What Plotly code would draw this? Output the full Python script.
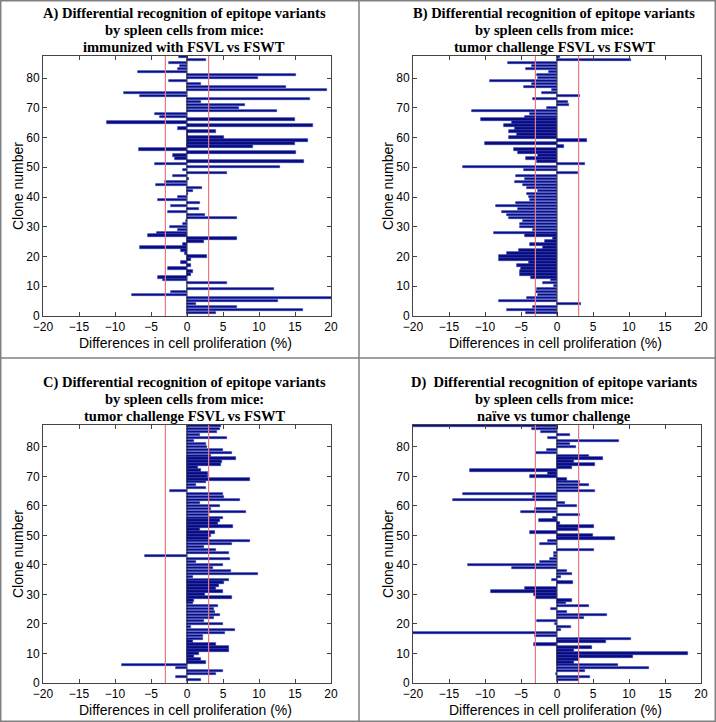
import plotly.graph_objects as go

W, H = 716, 722

clones = list(range(1, 88))
x_ticks = [-20, -15, -10, -5, 0, 5, 10, 15, 20]
y_ticks = [0, 10, 20, 30, 40, 50, 60, 70, 80]
threshold = 3

vals_A = [4.0, 16.1, 7.0, 1.2, 12.7, 20.5, -7.6, -2.2, 12.1, 0.0,
          5.6, -3.3, -4.0, 0.5, 0.8, -2.6, 0.5, -0.9, 0.5, 2.8,
          -0.3, -0.9, -6.5, -0.6, 2.3, 7.0, -5.4, -4.1, -1.2, -2.4,
          -0.5, -0.2, 6.9, 2.5, -2.6, 1.6, -2.2, 1.8, -4.0, -1.3,
          0.2, 0.9, 2.1, -4.3, -3.0, 0.3, -1.9, 5.5, -0.5, 12.9,
          -4.4, 16.3, -1.7, -2.0, 15.1, -6.6, 9.1, 15.0, 16.8, 5.2,
          0.15, 4.0, -1.2, 17.5, -11.1, 15.0, -3.75, -4.4, 12.5, 7.2,
          8.0, 2.0, 17.1, -6.5, -8.8, 19.4, 13.7, 2.0, -2.5, 9.8,
          15.1, -6.8, -1.3, -1.0, -2.5, 2.6, -1.1]

vals_B = [-4.35, -7.0, -3.3, 3.3, -8.1, -4.1, -2.6, -2.9, -2.8, -0.4,
          -1.9, -0.9, -3.6, -5.2, -5.2, -5.0, -5.5, -3.9, -8.0, -8.0,
          -6.9, -5.3, -2.0, -3.8, -1.7, -0.6, -4.5, -8.7, -3.4, -5.1,
          -5.2, -4.7, -6.6, -6.9, -7.7, -5.4, -8.5, -5.7, -3.8, -3.9,
          -4.2, -2.6, -4.1, -4.7, -5.8, -4.4, -5.7, 2.9, -4.6, -13.1,
          3.9, -2.8, -4.35, -2.7, -5.4, -6.0, 1.0, -10.0, 4.2, -6.6,
          -5.5, -6.7, -5.9, -7.4, -6.3, -10.5, -4.4, -3.7, -11.8, -1.4,
          1.7, 1.5, -3.3, 3.2, -2.1, -0.7, -4.6, -3.5, -9.3, -2.6,
          -2.8, -1.1, -4.35, -3.5, -6.8, 10.3, 0.4]

vals_C = [2.0, -1.5, 4.0, 5.0, -1.5, -9.0, 2.6, 2.0, 1.0, 1.7,
          5.8, 5.8, 4.0, 0.9, 2.2, 2.2, 5.3, 6.7, 0.6, 5.0,
          2.3, 3.7, 4.6, 3.9, 3.8, 4.35, 0.8, 1.0, 6.3, 2.5,
          5.0, 4.0, 4.4, 5.2, 5.9, 0.8, 9.8, 6.1, 3.6, 5.0,
          1.3, 6.0, -5.8, 5.8, 4.0, 2.3, 6.2, 8.7, 3.0, 3.3,
          3.9, 1.8, 6.4, 4.35, 4.6, 5.0, 3.0, 8.2, 3.4, 4.6,
          1.8, 7.4, 5.1, 5.0, -2.4, 2.6, 1.3, 2.6, 8.75, 2.9,
          2.9, 1.9, 1.5, 4.7, 4.9, 6.8, 3.3, 6.3, 5.0, 2.8,
          2.7, 1.0, 5.6, 1.8, 4.1, 4.6, 4.7]

vals_D = [3.0, 4.6, -0.2, 3.9, 12.8, 8.5, 2.4, 3.1, 10.6, 18.2,
          2.3, 4.9, -3.2, 6.8, 10.3, -3.0, -20.5, 0.5, 2.0, -0.3,
          -2.8, 3.7, 6.9, 1.4, -0.8, 4.4, 1.3, 2.1, -2.9, -3.2,
          -9.2, -4.5, 0.0, 2.2, -0.7, 0.55, 2.1, 1.4, -6.2, -12.4,
          -2.4, -1.0, -0.4, -0.45, 5.2, 0.0, -2.3, -1.2, 8.1, 5.0,
          -3.8, 2.9, 5.2, 0.4, -2.5, -0.55, 3.2, -5.0, -3.1, 2.8,
          1.1, -14.4, -3.4, -13.1, 5.3, 3.1, 4.5, 3.2, 1.4, -3.7,
          -1.25, -12.1, 2.1, 5.3, 2.3, 6.4, 4.5, -2.9, -1.4, 2.7,
          1.8, 8.6, -1.2, 1.85, -2.2, -3.5, -20.5]

titles = [
    ["A) Differential recognition of epitope variants", "by spleen cells from mice:", "immunized with FSVL vs FSWT"],
    ["B) Differential recognition of epitope variants", "by spleen cells from mice:", "tumor challenge FSVL vs FSWT"],
    ["C) Differential recognition of epitope variants", "by spleen cells from mice:", "tumor challenge FSVL vs FSWT"],
    ["D)  Differential recognition of epitope variants", "by spleen cells from mice:", "naïve vs tumor challenge"],
]
x_title = "Differences in cell proliferation (%)"
y_title = "Clone number"

# panel geometry in pixels (left, right, top, bottom)
panels = [(43, 331, 56, 316), (413, 701, 56, 316), (43, 331, 425, 683), (413, 701, 425, 683)]
series = [vals_A, vals_B, vals_C, vals_D]

def px(x):
    return x / W

def py(y):
    return 1 - y / H

fig = go.Figure()
sans = "Liberation Sans, Arial, Helvetica, sans-serif"
serif = "Liberation Serif, Times New Roman, serif"
shapes = []
annotations = []
for i, ((l, r, t, b), vals, ttl) in enumerate(zip(panels, series, titles)):
    n = "" if i == 0 else str(i + 1)
    xa, ya = "x" + n, "y" + n
    fig.add_trace(go.Bar(
        x=vals, y=clones, orientation="h", width=0.8,
        marker=dict(color="#0a0a7a", line=dict(color="#2c3cb8", width=0.7)),
        xaxis=xa, yaxis=ya, showlegend=False, hoverinfo="x+y"))
    axis_common = dict(showline=True, linecolor="#444", linewidth=1, mirror="ticks",
                       ticks="inside", ticklen=4, tickcolor="#444", showgrid=False,
                       zeroline=False, automargin=False,
                       tickfont=dict(family=sans, size=12, color="black"))
    fig.update_layout(**{
        "xaxis" + n: dict(domain=[px(l), px(r)], anchor=ya, range=[-20, 20],
                          tickvals=x_ticks, **axis_common),
        "yaxis" + n: dict(domain=[py(b), py(t)], anchor=xa, range=[0, 87.4],
                          tickvals=y_ticks, **axis_common),
    })
    yref_dom = ya + " domain"
    for xv in (-threshold, threshold):
        shapes.append(dict(type="line", xref=xa, yref=yref_dom, x0=xv, x1=xv, y0=0, y1=1,
                           line=dict(color="#ec7884", width=1.2)))
    shapes.append(dict(type="line", xref=xa, yref=yref_dom, x0=0, x1=0, y0=0, y1=1,
                       line=dict(color="#111", width=0.8), layer="above"))
    cx = (l + r) / 2 - 3
    for j, line in enumerate(ttl):
        annotations.append(dict(text="<b>" + line + "</b>", xref="paper", yref="paper",
                                x=px(cx), y=py(t - 43 + 17 * j), xanchor="center", yanchor="middle",
                                showarrow=False, font=dict(family=serif, size=14.5, color="black")))
    annotations.append(dict(text=x_title, xref="paper", yref="paper", x=px((l + r) / 2 - 2),
                            y=py(b + 27), xanchor="center", yanchor="middle", showarrow=False,
                            font=dict(family=sans, size=14, color="black")))
    annotations.append(dict(text=y_title, xref="paper", yref="paper", x=px(l - 25),
                            y=py((t + b) / 2), xanchor="center", yanchor="middle", showarrow=False,
                            textangle=-90, font=dict(family=sans, size=14, color="black")))

# panel frames
frame = dict(color="#808080", width=1.5)
shapes += [
    dict(type="rect", xref="paper", yref="paper", x0=0.001, x1=0.999, y0=0.001, y1=0.999, line=frame),
    dict(type="line", xref="paper", yref="paper", x0=px(359), x1=px(359), y0=0, y1=1, line=frame),
    dict(type="line", xref="paper", yref="paper", x0=0, x1=1, y0=py(358), y1=py(358), line=frame),
]

fig.update_layout(width=W, height=H, margin=dict(l=0, r=0, t=0, b=0, autoexpand=False),
                  paper_bgcolor="white", plot_bgcolor="white", bargap=0,
                  shapes=shapes, annotations=annotations)
fig.write_html("out.html", config={"displayModeBar": False},
               post_script="document.body.style.margin='0';document.body.style.overflow='hidden';")
